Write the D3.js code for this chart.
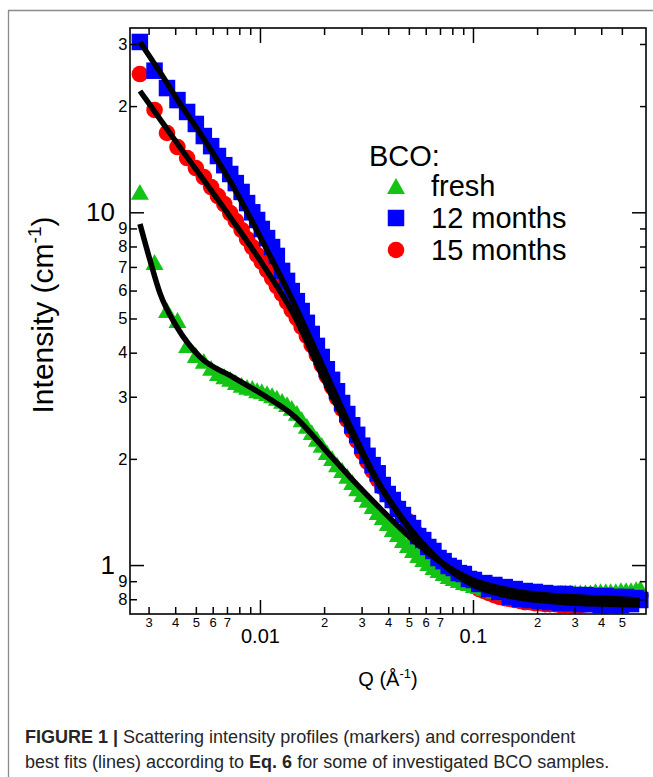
<!DOCTYPE html>
<html><head><meta charset="utf-8">
<script src="https://cdn.jsdelivr.net/npm/d3@7"></script>
<style>body{margin:0;background:#fff}svg{display:block}</style>
</head><body>
<svg id="c" width="653" height="777"></svg>
<script>
// ---- data ----
const Q = [0.00273,0.0032,0.00366,0.0041,0.00455,0.005,0.00545,0.0059,0.00635,0.0068,0.00725,0.0077,0.0082,0.0087,0.0092,0.0097,0.0102,0.0108,0.0114,0.012,0.0127,0.0134,0.0141,0.0149,0.0157,0.0166,0.0175,0.0185,0.0195,0.0206,0.0218,0.023,0.0243,0.0257,0.0271,0.0286,0.0302,0.032,0.0338,0.0357,0.0377,0.0398,0.042,0.0444,0.0469,0.0495,0.0523,0.0553,0.0584,0.0617,0.0652,0.0689,0.0728,0.0769,0.0812,0.0858,0.0906,0.0957,0.101,0.107,0.113,0.119,0.126,0.133,0.141,0.149,0.157,0.166,0.175,0.185,0.195,0.206,0.218,0.23,0.243,0.257,0.271,0.286,0.302,0.319,0.337,0.356,0.376,0.397,0.42,0.443,0.468,0.495,0.523,0.552,0.583,0.61];
const freshI = [11.42,7.23,5.28,4.95,4.20,3.94,3.79,3.62,3.50,3.43,3.37,3.30,3.24,3.20,3.18,3.13,3.11,3.07,3.03,2.98,2.92,2.86,2.79,2.70,2.59,2.48,2.38,2.28,2.19,2.09,2.01,1.93,1.86,1.79,1.72,1.65,1.59,1.53,1.47,1.413,1.368,1.315,1.265,1.224,1.177,1.139,1.103,1.068,1.040,1.013,0.987,0.968,0.949,0.931,0.919,0.907,0.895,0.889,0.878,0.872,0.862,0.855,0.846,0.843,0.837,0.837,0.837,0.832,0.832,0.832,0.832,0.832,0.827,0.832,0.832,0.832,0.837,0.837,0.837,0.837,0.837,0.837,0.843,0.843,0.843,0.843,0.843,0.849,0.849,0.849,0.854,0.860];
const months12I = [30.4,25.2,22.5,20.8,19.25,17.8,16.45,15.4,14.44,13.6,12.84,12.1,11.42,10.62,10.0,9.51,8.97,8.45,7.97,7.52,6.82,6.39,5.98,5.60,5.25,4.86,4.52,4.18,3.89,3.59,3.35,3.11,2.88,2.68,2.49,2.34,2.18,2.04,1.92,1.82,1.686,1.590,1.529,1.441,1.386,1.315,1.273,1.208,1.177,1.125,1.096,1.047,1.026,0.994,0.981,0.949,0.943,0.913,0.907,0.884,0.889,0.855,0.878,0.839,0.866,0.812,0.855,0.801,0.844,0.796,0.839,0.791,0.833,0.785,0.828,0.780,0.828,0.780,0.822,0.775,0.822,0.775,0.817,0.770,0.817,0.770,0.812,0.770,0.812,0.775,0.806,0.796];
const months15I = [24.66,19.5,16.78,15.31,14.25,13.35,12.59,11.79,11.12,10.55,9.95,9.45,8.91,8.40,7.97,7.57,7.23,6.86,6.51,6.18,5.87,5.57,5.28,5.01,4.73,4.46,4.20,3.94,3.69,3.43,3.20,2.98,2.77,2.58,2.40,2.25,2.09,1.96,1.85,1.75,1.66,1.59,1.52,1.45,1.386,1.333,1.273,1.216,1.170,1.125,1.081,1.047,1.013,0.981,0.955,0.931,0.907,0.889,0.872,0.855,0.844,0.833,0.822,0.812,0.806,0.801,0.796,0.791,0.785,0.785,0.780,0.780,0.775,0.775,0.775,0.770,0.770,0.770,0.770,0.770,0.775,0.775,0.775,0.775,0.780,0.780,0.780,0.785,0.785,0.791,0.801,0.817];

const fitQ = [0.002733,0.003045,0.003392,0.004076,0.005228,0.007465,0.01079,0.01429,0.02131,0.02646,0.03659,0.04543,0.06081,0.07798,0.1,0.1339,0.1662,0.2562,0.3948,0.6081];
const fitFresh = [9.26,7.32,5.90,4.73,3.89,3.41,2.99,2.66,2.05,1.776,1.450,1.273,1.089,0.981,0.907,0.861,0.839,0.817,0.806,0.796];
const fit12 = [30.39,27.55,24.99,20.95,16.78,11.87,7.82,5.60,3.30,2.48,1.686,1.386,1.117,0.974,0.889,0.844,0.822,0.801,0.791,0.780];
const fit15 = [22.07,20.15,18.38,15.72,12.76,9.45,6.82,5.18,3.09,2.41,1.675,1.377,1.110,0.968,0.878,0.828,0.806,0.785,0.775,0.770];

const xMinorTicks = [0.003,0.004,0.005,0.006,0.007,0.008,0.009,0.02,0.03,0.04,0.05,0.06,0.07,0.08,0.09,0.2,0.3,0.4,0.5];
const xMinorLabels = ["3","4","5","6","7","","","2","3","4","5","6","7","","","2","3","4","5"];
const xMajorTicks = [0.01,0.1];
const xMajorLabels = ["0.01","0.1"];
const yMinorTicks = [0.8,0.9,2,3,4,5,6,7,8,9,20,30];
const yMinorLabels = ["8","9","2","3","4","5","6","7","8","9","2","3"];
const yMajorTicks = [1,10];
const yMajorLabels = ["1","10"];
const seriesNames = ["fresh","12 months","15 months"];
const legendTitle = "BCO:";

// ---- layout ----
const L=130, R=646, T=28, B=614;
const FONT = "'Liberation Sans', Arial, Helvetica, sans-serif";
const svg = d3.select("#c");
const x = d3.scaleLog().domain([0.002454,0.649]).range([L,R]);
const y = d3.scaleLog().domain([0.7265,33.3]).range([B,T]);

// figure border (top and left)
svg.append("path").attr("d",`M8.5,777V10.5H653`).attr("fill","none").attr("stroke","#8a8a8a").attr("stroke-width",1.3);

// markers
const tri = {draw(ctx,size){const w=Math.sqrt(size*4/Math.sqrt(3)), h=w*0.88; ctx.moveTo(0,-h/2); ctx.lineTo(w/2,h/2); ctx.lineTo(-w/2,h/2); ctx.closePath();}};
const symRed = d3.symbol(d3.symbolCircle, Math.PI*8.3*8.3);
const symGreen = d3.symbol(tri, 140);
const symBlue = d3.symbol(d3.symbolSquare, 16.5*16.5);
const COL = {fresh:"#14c414", m12:"#0000ff", m15:"#ff0000"};

function drawSeries(vals, sym, col){
  svg.append("g").selectAll("path").data(Q.map((q,i)=>[q,vals[i]])).join("path")
    .attr("d", sym).attr("fill", col)
    .attr("transform", d=>`translate(${x(d[0])},${y(d[1])})`);
}
drawSeries(months15I, symRed, COL.m15);
drawSeries(freshI, symGreen, COL.fresh);
drawSeries(months12I, symBlue, COL.m12);

// fits
const line = d3.line().x(d=>x(d[0])).y(d=>y(d[1])).curve(d3.curveMonotoneX);
[fitFresh, fit15, fit12].forEach(f=>{
  svg.append("path").datum(fitQ.map((q,i)=>[q,f[i]])).attr("d",line)
    .attr("fill","none").attr("stroke","#000").attr("stroke-width",5.5);
});

// axes
function styleAxis(g, fs){
  g.select(".domain").remove();
  g.selectAll(".tick line").attr("stroke","#000").attr("stroke-width",1.5);
  g.selectAll("text").attr("font-family",FONT).attr("font-size",fs).attr("fill","#000");
}
// bottom
svg.append("g").attr("transform",`translate(0,${B})`)
  .call(d3.axisBottom(x).tickValues(xMinorTicks).tickSize(-7).tickPadding(3.5).tickFormat((d,i)=>xMinorLabels[i]))
  .call(g=>styleAxis(g,13));
svg.append("g").attr("transform",`translate(0,${B})`)
  .call(d3.axisBottom(x).tickValues(xMajorTicks).tickSize(-14).tickPadding(14.5).tickFormat((d,i)=>xMajorLabels[i]))
  .call(g=>styleAxis(g,20));
// top
svg.append("g").attr("transform",`translate(0,${T})`)
  .call(d3.axisTop(x).tickValues(xMinorTicks).tickSize(-7).tickFormat(""))
  .call(g=>styleAxis(g,13));
svg.append("g").attr("transform",`translate(0,${T})`)
  .call(d3.axisTop(x).tickValues(xMajorTicks).tickSize(-15).tickFormat(""))
  .call(g=>styleAxis(g,13));
// left
svg.append("g").attr("transform",`translate(${L},0)`)
  .call(d3.axisLeft(y).tickValues(yMinorTicks).tickSize(-7).tickPadding(2.5).tickFormat((d,i)=>yMinorLabels[i]))
  .call(g=>styleAxis(g,16.5));
svg.append("g").attr("transform",`translate(${L},0)`)
  .call(d3.axisLeft(y).tickValues(yMajorTicks).tickSize(-14).tickPadding(15).tickFormat((d,i)=>yMajorLabels[i]))
  .call(g=>styleAxis(g,26));
// right
svg.append("g").attr("transform",`translate(${R},0)`)
  .call(d3.axisRight(y).tickValues(yMinorTicks).tickSize(-6).tickFormat(""))
  .call(g=>styleAxis(g,13));
svg.append("g").attr("transform",`translate(${R},0)`)
  .call(d3.axisRight(y).tickValues(yMajorTicks).tickSize(-14).tickFormat(""))
  .call(g=>styleAxis(g,13));

// frame
svg.append("rect").attr("x",L).attr("y",T).attr("width",R-L).attr("height",B-T)
  .attr("fill","none").attr("stroke","#000").attr("stroke-width",1.6);

// axis titles
const yt = svg.append("text").attr("transform","translate(53,315) rotate(-90)")
  .attr("text-anchor","middle").attr("font-family",FONT).attr("font-size",30).attr("fill","#000");
yt.append("tspan").text("Intensity (cm");
yt.append("tspan").attr("dy",-12).attr("font-size",19).text("-1");
yt.append("tspan").attr("dy",12).text(")");

const xt = svg.append("text").attr("x",388).attr("y",686)
  .attr("text-anchor","middle").attr("font-family",FONT).attr("font-size",20).attr("fill","#000");
xt.append("tspan").text("Q (Å");
xt.append("tspan").attr("dy",-8).attr("font-size",13).text("-1");
xt.append("tspan").attr("dy",8).text(")");

// legend
svg.append("text").attr("x",369).attr("y",166).attr("font-family",FONT).attr("font-size",29).text(legendTitle);
const legSyms = [symGreen, symBlue, symRed];
const legCols = [COL.fresh, COL.m12, COL.m15];
seriesNames.forEach((n,i)=>{
  const yy = 186 + i*32;
  svg.append("path").attr("d", legSyms[i]).attr("fill",legCols[i]).attr("transform",`translate(396,${yy})`);
  svg.append("text").attr("x",431).attr("y",yy+10).attr("font-family",FONT).attr("font-size",29).text(n);
});

// caption
const cap1 = svg.append("text").attr("x",25).attr("y",743).attr("font-family",FONT).attr("font-size",18).attr("fill","#262626");
cap1.append("tspan").attr("font-weight","bold").text("FIGURE 1 |");
cap1.append("tspan").text(" Scattering intensity profiles (markers) and correspondent");
const cap2 = svg.append("text").attr("x",25).attr("y",768).attr("font-family",FONT).attr("font-size",18).attr("fill","#262626");
cap2.append("tspan").text("best fits (lines) according to ");
cap2.append("tspan").attr("font-weight","bold").text("Eq. 6");
cap2.append("tspan").text(" for some of investigated BCO samples.");
</script>
</body></html>
